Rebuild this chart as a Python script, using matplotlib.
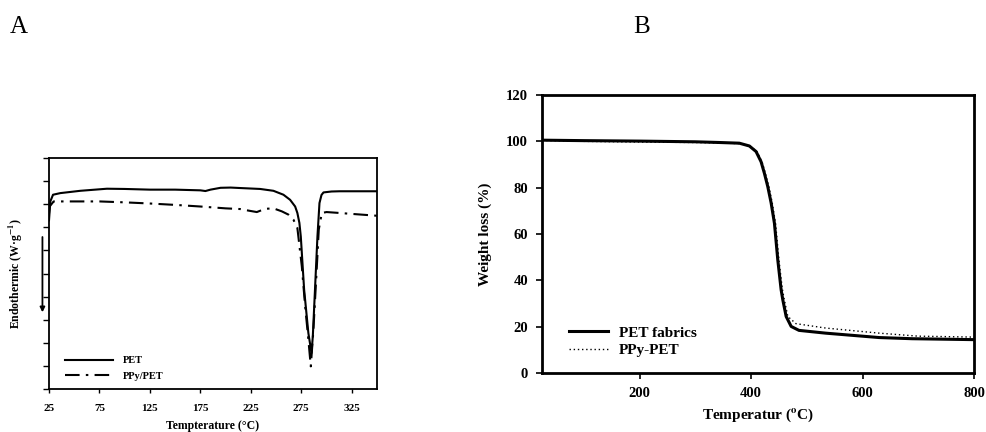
import numpy as np
import matplotlib.pyplot as plt

plt.rcParams['font.family'] = ['Liberation Serif', 'DejaVu Serif']
plt.rcParams['font.weight'] = 'bold'
plt.rcParams['mathtext.fontset'] = 'stix'

# Panel A - DSC (arbitrary units, 0..10 on hidden y scale)
pet_x = [25, 26.3, 29, 36.2, 56, 82.4, 100, 125, 150, 175, 180, 185, 195, 205,
         214.4, 234.2, 247.4, 257.3, 263.9, 268.9, 271.1, 273.1, 274.5, 277.8, 282,
         285.1, 286.4, 288.7, 291, 293, 295, 297, 305, 313, 350]
pet_y = [7.3, 8.12, 8.41, 8.48, 8.58, 8.67, 8.66, 8.63, 8.63, 8.6, 8.57, 8.63, 8.71,
         8.72, 8.70, 8.66, 8.58, 8.41, 8.19, 7.90, 7.62, 7.19, 6.6, 4.3, 2.42, 1.56,
         2.28, 4.44, 6.61, 8.05, 8.4, 8.51, 8.55, 8.56, 8.56]

ppy_x = [25, 25.6, 29.6, 50, 75, 100, 125, 150, 175, 200, 214.4, 224.3, 230.9,
         239.2, 247.4, 255.7, 262.2, 267.2, 271.1, 275.5, 278.8, 282, 284.4, 287,
         289.7, 292.3, 295.3, 300, 313, 325, 350]
ppy_y = [7.6, 7.9, 8.12, 8.12, 8.12, 8.08, 8.03, 7.97, 7.9, 7.82, 7.79, 7.71, 7.66,
         7.8, 7.82, 7.69, 7.55, 7.33, 6.97, 5.31, 3.58, 2.14, 0.98, 2.57, 4.73, 6.9,
         7.62, 7.66, 7.62, 7.58, 7.5]

# Panel B - TGA
pet_tx = [25, 100, 200, 300, 343, 379, 397, 409, 418, 424, 430, 436, 442, 448, 454,
          457, 463, 472, 486, 534, 630, 689, 800]
pet_w = [100.5, 100.3, 100.1, 99.8, 99.5, 99.2, 98.0, 95.6, 91.2, 86.2, 80.5, 73.5,
         64.6, 48.8, 35.9, 31.6, 24.4, 20.1, 18.4, 17.2, 15.3, 14.8, 14.4]
ppy_tx = [25, 100, 200, 300, 343, 381, 399, 411, 420, 426, 432, 438, 444, 450, 456,
          459, 466, 480.6, 534, 630, 700, 800]
ppy_w = [100.4, 100.0, 99.7, 99.5, 99.3, 99.0, 97.8, 95.4, 91.0, 86.0, 80.5, 73.5,
         64.6, 49.0, 36.5, 32.5, 24.4, 21.3, 19.4, 17.2, 15.9, 15.5]

fig = plt.figure(figsize=(9.87, 4.32), dpi=100)
W, H = 987, 432


def px_axes(l, t, r, b):
    return fig.add_axes([l / W, 1 - b / H, (r - l) / W, (b - t) / H])


# ---------------- A ----------------
axA = px_axes(49, 158, 377, 389)
axA.plot(pet_x, pet_y, color='black', lw=1.5, label='PET')
axA.plot(ppy_x, ppy_y, color='black', lw=1.5, ls=(0, (7, 3, 1.2, 3)), label='PPy/PET')
axA.set_xlim(25, 350)
axA.set_ylim(0, 10)
axA.set_xticks([25, 75, 125, 175, 225, 275, 325])
axA.set_yticks(np.arange(0, 11, 1))
axA.set_yticklabels([])
axA.tick_params(axis='both', direction='out', length=3, width=1, labelsize=8, pad=8)
axA.tick_params(axis='y', length=4)
for s in axA.spines.values():
    s.set_linewidth(1.3)
axA.set_xlabel('Tempterature (°C)', fontsize=8.5, fontweight='bold', labelpad=5)
axA.set_ylabel(r'Endothermic (W·g$^{\mathbf{-1}}$)', fontsize=8.5, fontweight='bold')
axA.yaxis.set_label_coords(-0.073, 0.5)
axA.annotate('', xy=(-0.02, 0.32), xytext=(-0.02, 0.67), xycoords='axes fraction',
             arrowprops=dict(arrowstyle='-|>', color='black', lw=1.3,
                             mutation_scale=7), annotation_clip=False)
axA.legend(loc='lower left', bbox_to_anchor=(0.02, -0.005), frameon=False,
           handlelength=4.6, handletextpad=1.0, labelspacing=0.6,
           prop={'weight': 'bold', 'size': 7.5})
fig.text(10 / W, 1 - 27 / H, 'A', fontsize=18, fontweight='normal', va='center')

# ---------------- B ----------------
axB = px_axes(542, 95, 974, 373)
axB.plot(pet_tx, pet_w, color='black', lw=2.2, label='PET fabrics')
axB.plot(ppy_tx, ppy_w, color='black', lw=1.0, ls=(0, (1, 2)), label='PPy-PET')
axB.set_xlim(25, 800)
axB.set_ylim(0, 120)
axB.set_xticks([200, 400, 600, 800])
axB.set_yticks(np.arange(0, 121, 20))
axB.tick_params(axis='both', direction='out', length=4, width=1.2, labelsize=10.5, pad=6)
for s in axB.spines.values():
    s.set_linewidth(2)
axB.set_xlabel(r'Temperatur ($\mathbf{^{o}}$C)', fontsize=11, fontweight='bold',
               labelpad=5)
axB.set_ylabel('Weight loss (%)', fontsize=11, fontweight='bold', labelpad=10)
axB.legend(loc='lower left', bbox_to_anchor=(0.03, 0.008), frameon=False,
           handlelength=2.6, handletextpad=0.7, labelspacing=0.25,
           prop={'weight': 'bold', 'size': 11})
fig.text(633 / W, 1 - 27 / H, 'B', fontsize=18, fontweight='normal', va='center')

fig.savefig('out.png', dpi=100)
